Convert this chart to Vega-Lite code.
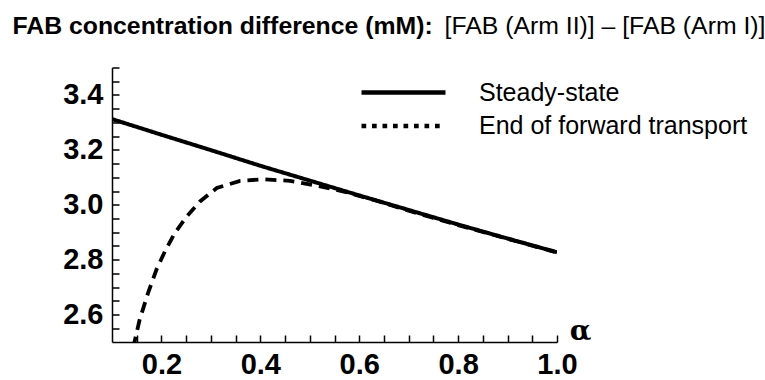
{
  "$schema": "https://vega.github.io/schema/vega-lite/v6.json",
  "autosize": "none",
  "width": 445,
  "height": 274.5,
  "padding": {"left": 112, "top": 67.5, "right": 208, "bottom": 38},
  "background": "white",
  "config": {"view": {"stroke": null}},
  "data": {"values": [
    {"alpha": 0.1, "diff": 3.312, "series": "Steady-state"},
    {"alpha": 0.2, "diff": 3.255, "series": "Steady-state"},
    {"alpha": 0.3, "diff": 3.199, "series": "Steady-state"},
    {"alpha": 0.4, "diff": 3.142, "series": "Steady-state"},
    {"alpha": 0.5, "diff": 3.088, "series": "Steady-state"},
    {"alpha": 0.6, "diff": 3.034, "series": "Steady-state"},
    {"alpha": 0.7, "diff": 2.981, "series": "Steady-state"},
    {"alpha": 0.8, "diff": 2.928, "series": "Steady-state"},
    {"alpha": 0.9, "diff": 2.877, "series": "Steady-state"},
    {"alpha": 1.0, "diff": 2.827, "series": "Steady-state"},
    {"alpha": 0.143, "diff": 2.48, "series": "End of forward transport"},
    {"alpha": 0.156, "diff": 2.582, "series": "End of forward transport"},
    {"alpha": 0.173, "diff": 2.679, "series": "End of forward transport"},
    {"alpha": 0.19, "diff": 2.764, "series": "End of forward transport"},
    {"alpha": 0.207, "diff": 2.83, "series": "End of forward transport"},
    {"alpha": 0.227, "diff": 2.897, "series": "End of forward transport"},
    {"alpha": 0.251, "diff": 2.957, "series": "End of forward transport"},
    {"alpha": 0.278, "diff": 3.012, "series": "End of forward transport"},
    {"alpha": 0.312, "diff": 3.061, "series": "End of forward transport"},
    {"alpha": 0.359, "diff": 3.087, "series": "End of forward transport"},
    {"alpha": 0.406, "diff": 3.093, "series": "End of forward transport"},
    {"alpha": 0.46, "diff": 3.087, "series": "End of forward transport"},
    {"alpha": 0.515, "diff": 3.069, "series": "End of forward transport"},
    {"alpha": 0.569, "diff": 3.048, "series": "End of forward transport"},
    {"alpha": 0.629, "diff": 3.018, "series": "End of forward transport"},
    {"alpha": 0.7, "diff": 2.978, "series": "End of forward transport"},
    {"alpha": 0.8, "diff": 2.926, "series": "End of forward transport"},
    {"alpha": 0.9, "diff": 2.876, "series": "End of forward transport"},
    {"alpha": 1.0, "diff": 2.826, "series": "End of forward transport"}
  ]},
  "encoding": {
    "x": {
      "field": "alpha", "type": "quantitative",
      "scale": {"domain": [0.1, 1.0], "nice": false, "zero": false},
      "axis": {
        "values": [0.15, 0.2, 0.25, 0.3, 0.35, 0.4, 0.45, 0.5, 0.55, 0.6, 0.65, 0.7, 0.75, 0.8, 0.85, 0.9, 0.95, 1.0],
        "labelExpr": "round(datum.value*20)%4==0 ? format(datum.value,'.1f') : ''",
        "labelFont": "Liberation Sans", "labelFontWeight": "bold", "labelFontSize": 29, "labelColor": "black",
        "labelPadding": 15, "labelOverlap": false, "labelFlush": false, "labelBound": false,
        "tickSize": -7, "tickWidth": 1.5, "tickColor": "black",
        "domainColor": "black", "domainWidth": 1.5, "grid": false,
        "title": "α", "titleFont": "DejaVu Serif", "titleFontWeight": "bold", "titleFontSize": 28, "titleColor": "black",
        "titleX": 468, "titleY": -3, "titleAlign": "center", "titleBaseline": "alphabetic",
        "encode": {"ticks": {"update": {"y2": {"signal": "round(datum.value*20)%4==0 ? -7 : -4"}}}}
      }
    }
  },
  "layer": [
    {
      "transform": [{"filter": "datum.series === 'Steady-state'"}],
      "mark": {"type": "line", "color": "black", "strokeWidth": 4, "clip": true},
      "encoding": {
        "y": {
          "field": "diff", "type": "quantitative",
          "scale": {"domain": [2.5, 3.5], "nice": false, "zero": false},
          "axis": {
            "values": [2.55, 2.6, 2.65, 2.7, 2.75, 2.8, 2.85, 2.9, 2.95, 3.0, 3.05, 3.1, 3.15, 3.2, 3.25, 3.3, 3.35, 3.4, 3.45, 3.5],
            "labelExpr": "round(datum.value*20)%4==0 ? format(datum.value,'.1f') : ''",
            "labelFont": "Liberation Sans", "labelFontWeight": "bold", "labelFontSize": 29, "labelColor": "black",
            "labelPadding": 16, "labelOverlap": false, "labelFlush": false, "labelBound": false,
            "tickSize": -7, "tickWidth": 1.5, "tickColor": "black",
            "domainColor": "black", "domainWidth": 1.5, "grid": false,
            "title": "FAB concentration difference (mM):",
            "titleFont": "Liberation Sans", "titleFontWeight": "bold", "titleFontSize": 24.8, "titleColor": "black",
            "titleAngle": 0, "titleX": -100, "titleY": -34.5, "titleAlign": "left", "titleBaseline": "alphabetic",
            "encode": {"ticks": {"update": {"x2": {"signal": "round(datum.value*20)%4==0 ? 7 : 4"}}}}
          }
        },
        "strokeDash": {
          "field": "series", "type": "nominal",
          "scale": {"domain": ["Steady-state", "End of forward transport"], "range": [[1, 0], [4.7, 5.8]]},
          "legend": {
            "orient": "none", "legendX": 247, "legendY": 10, "title": null,
            "symbolType": "stroke", "symbolSize": 7056, "symbolStrokeWidth": 4.7, "symbolStrokeColor": "black",
            "labelFont": "Liberation Sans", "labelFontSize": 25, "labelColor": "black", "labelOffset": 31,
            "labelLimit": 0, "clipHeight": 30, "rowPadding": 3.5
          }
        }
      }
    },
    {
      "transform": [{"filter": "datum.series === 'End of forward transport'"}],
      "mark": {"type": "line", "color": "black", "strokeWidth": 3.8, "clip": true, "strokeDash": [11, 7]},
      "encoding": {
        "y": {
          "field": "diff", "type": "quantitative",
          "scale": {"domain": [2.5, 3.5], "nice": false, "zero": false},
          "axis": {
            "orient": "right", "domain": false, "ticks": false, "labels": false, "grid": false,
            "title": "[FAB (Arm II)] – [FAB (Arm I)]",
            "titleFont": "Liberation Sans", "titleFontWeight": "normal", "titleFontSize": 24.8, "titleColor": "black",
            "titleAngle": 0, "titleX": -113, "titleY": -34.5, "titleAlign": "left", "titleBaseline": "alphabetic"
          }
        }
      }
    }
  ],
  "resolve": {"axis": {"y": "independent"}}
}
